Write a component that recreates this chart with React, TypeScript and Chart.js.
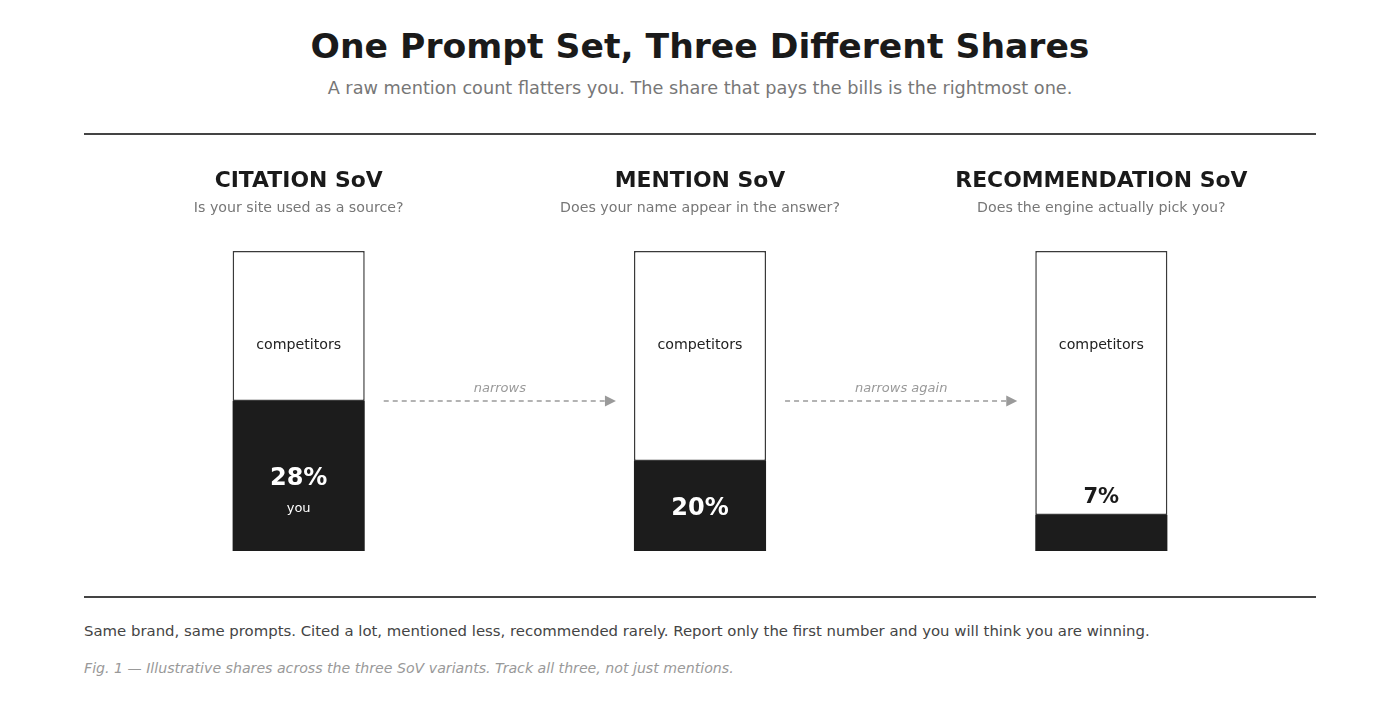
import React, { useEffect, useRef } from "react";
import { Chart, registerables } from "chart.js";

Chart.register(...registerables);

const panelTitles = ["CITATION SoV", "MENTION SoV", "RECOMMENDATION SoV"];
const panelQuestions = [
  "Is your site used as a source?",
  "Does your name appear in the answer?",
  "Does the engine actually pick you?",
];
const shareLabels = ["28%", "20%", "7%"];
// drawn heights of the "you" segment and the competitors segment (out of 100)
const youHeights = [50, 30, 12];
const competitorHeights = [50, 70, 88];
const arrowLabels = ["narrows", "narrows again"];

const FONT = '"DejaVu Sans", sans-serif';

const overlayPlugin = {
  id: "overlay",
  afterDatasetsDraw(chart: any) {
    const ctx = chart.ctx as CanvasRenderingContext2D;
    const xs = chart.scales.x;
    const ys = chart.scales.y;
    const youMeta = chart.getDatasetMeta(0);
    ctx.save();
    ctx.textAlign = "center";
    ctx.textBaseline = "middle";
    panelTitles.forEach((t, i) => {
      const x = xs.getPixelForValue(i);
      ctx.fillStyle = "#1a1a1a";
      ctx.font = `bold 21.9px ${FONT}`;
      ctx.fillText(t, x, 41);
      ctx.fillStyle = "#777777";
      ctx.font = `14.2px ${FONT}`;
      ctx.fillText(panelQuestions[i], x, 68);
      // competitors label
      ctx.fillStyle = "#222222";
      ctx.font = `14.2px ${FONT}`;
      ctx.fillText("competitors", x, ys.getPixelForValue(68.5));
      // share label
      const bar = youMeta.data[i];
      const top = bar.y;
      const bottom = bar.base;
      const h = bottom - top;
      const mid = (top + bottom) / 2;
      ctx.font = `bold 24px ${FONT}`;
      if (h >= 120) {
        ctx.fillStyle = "#ffffff";
        ctx.fillText(shareLabels[i], x, mid + 3);
        ctx.font = `13px ${FONT}`;
        ctx.fillText("you", x, mid + 33);
      } else if (h >= 60) {
        ctx.fillStyle = "#ffffff";
        ctx.fillText(shareLabels[i], x, mid + 3);
      } else {
        ctx.fillStyle = "#1a1a1a";
        ctx.font = `bold 21px ${FONT}`;
        ctx.fillText(shareLabels[i], x, top - 17);
      }
    });
    // arrows
    const ay = ys.getPixelForValue(50);
    arrowLabels.forEach((lab, i) => {
      const b0 = youMeta.data[i];
      const b1 = youMeta.data[i + 1];
      const x0 = b0.x + b0.width / 2 + 19;
      const x1 = b1.x - b1.width / 2 - 18;
      ctx.strokeStyle = "#9a9a9a";
      ctx.lineWidth = 1.3;
      ctx.setLineDash([5, 4]);
      ctx.beginPath();
      ctx.moveTo(x0, ay);
      ctx.lineTo(x1 - 10, ay);
      ctx.stroke();
      ctx.setLineDash([]);
      ctx.fillStyle = "#9a9a9a";
      ctx.beginPath();
      ctx.moveTo(x1, ay);
      ctx.lineTo(x1 - 11, ay - 5.5);
      ctx.lineTo(x1 - 11, ay + 5.5);
      ctx.closePath();
      ctx.fill();
      ctx.font = `italic 13px ${FONT}`;
      ctx.fillStyle = "#999999";
      ctx.fillText(lab, (x0 + x1) / 2, ay - 12);
    });
    ctx.restore();
  },
};

function ShareChart() {
  const ref = useRef<HTMLCanvasElement | null>(null);
  useEffect(() => {
    if (!ref.current) return;
    const chart = new Chart(ref.current, {
      type: "bar",
      data: {
        labels: panelTitles,
        datasets: [
          {
            label: "you",
            data: youHeights,
            backgroundColor: "#1c1c1c",
            borderColor: "#1c1c1c",
            borderWidth: 0,
            borderSkipped: false,
          },
          {
            label: "competitors",
            data: competitorHeights,
            backgroundColor: "#ffffff",
            borderColor: "#3a3a3a",
            borderWidth: 1.5,
            borderSkipped: false,
          },
        ],
      },
      options: {
        animation: false,
        responsive: false,
        maintainAspectRatio: false,
        devicePixelRatio: 1,
        layout: { padding: { left: 14, right: 14, top: 111, bottom: 39 } },
        datasets: { bar: { categoryPercentage: 1, barPercentage: 132 / 401 } },
        scales: {
          x: { display: false, stacked: true },
          y: { display: false, stacked: true, min: 0, max: 100 },
        },
        plugins: { legend: { display: false }, tooltip: { enabled: false } },
      } as any,
      plugins: [overlayPlugin],
    });
    return () => chart.destroy();
  }, []);
  return (
    <canvas
      ref={ref}
      width={1232}
      height={450}
      style={{ position: "absolute", left: 76, top: 132, width: 1232, height: 450 }}
    />
  );
}

export default function App() {
  const abs = (top: number, extra: React.CSSProperties = {}): React.CSSProperties => ({
    position: "absolute",
    top,
    fontFamily: FONT,
    whiteSpace: "nowrap",
    ...extra,
  });
  return (
    <div style={{ position: "relative", width: 1384, height: 693, background: "#fff" }}>
      <div
        style={abs(18, {
          left: 0,
          width: 1384,
          textAlign: "center",
          fontSize: 34.6,
          fontWeight: "bold",
          color: "#1a1a1a",
          lineHeight: "40px",
        })}
      >
        One Prompt Set, Three Different Shares
      </div>
      <div
        style={abs(68, {
          left: 0,
          width: 1384,
          textAlign: "center",
          fontSize: 17.7,
          color: "#777777",
          lineHeight: "24px",
        })}
      >
        A raw mention count flatters you. The share that pays the bills is the rightmost one.
      </div>
      <div style={{ position: "absolute", left: 76, top: 125, width: 1232, height: 2, background: "#444" }} />
      <ShareChart />
      <div style={{ position: "absolute", left: 76, top: 588, width: 1232, height: 2, background: "#444" }} />
      <div style={abs(612, { left: 76, fontSize: 14.9, color: "#444444", lineHeight: "22px" })}>
        Same brand, same prompts. Cited a lot, mentioned less, recommended rarely. Report only the first number and you will think you are winning.
      </div>
      <div
        style={abs(649, {
          left: 76,
          fontSize: 14.15,
          fontStyle: "italic",
          color: "#999999",
          lineHeight: "22px",
        })}
      >
        Fig. 1 — Illustrative shares across the three SoV variants. Track all three, not just mentions.
      </div>
    </div>
  );
}
